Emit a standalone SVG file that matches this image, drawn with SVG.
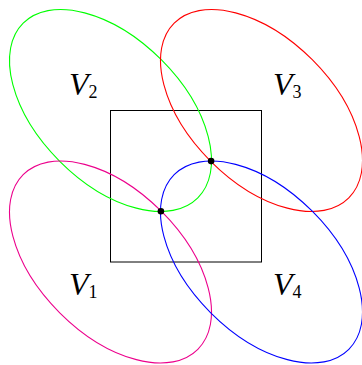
<svg xmlns="http://www.w3.org/2000/svg" width="362" height="365" viewBox="0 0 362 365">
<style>
.e{fill:none;stroke-width:1.1}
.lbl{font-family:"Liberation Serif","DejaVu Serif",serif;font-style:italic;font-size:32px;fill:#000}
.sub{font-family:"Liberation Serif","DejaVu Serif",serif;font-size:18px;fill:#000}
.dot{fill:#000}
</style>
<rect width="362" height="365" fill="#fff"/>
<g id="square">
<rect x="110.5" y="110.5" width="151" height="151.5" fill="none" stroke="#000" stroke-width="1"/>
</g>
<g id="V2">
<ellipse class="e" stroke="#00ff00" cx="0" cy="0" rx="123.5" ry="71.8" transform="translate(110.5,110.5) rotate(45)"/>
<text x="69" y="95"><tspan class="lbl">V</tspan><tspan class="sub" dy="3">2</tspan></text>
</g>
<g id="V3">
<ellipse class="e" stroke="#ff0000" cx="0" cy="0" rx="123.5" ry="71.8" transform="translate(261.5,110.5) rotate(45)"/>
<text x="273" y="95"><tspan class="lbl">V</tspan><tspan class="sub" dy="3">3</tspan></text>
</g>
<g id="V1">
<ellipse class="e" stroke="#ec008c" cx="0" cy="0" rx="123.5" ry="71.8" transform="translate(110.5,262) rotate(45)"/>
<text x="69" y="295"><tspan class="lbl">V</tspan><tspan class="sub" dy="3">1</tspan></text>
</g>
<g id="V4">
<ellipse class="e" stroke="#0000ff" cx="0" cy="0" rx="123.5" ry="71.8" transform="translate(261.5,262) rotate(45)"/>
<text x="273" y="295"><tspan class="lbl">V</tspan><tspan class="sub" dy="3">4</tspan></text>
</g>
<g id="p1"><circle class="dot" cx="160.9" cy="211.2" r="3.3"/></g>
<g id="p2"><circle class="dot" cx="211.1" cy="161.1" r="3.3"/></g>
<g id="connectors"></g>
</svg>
